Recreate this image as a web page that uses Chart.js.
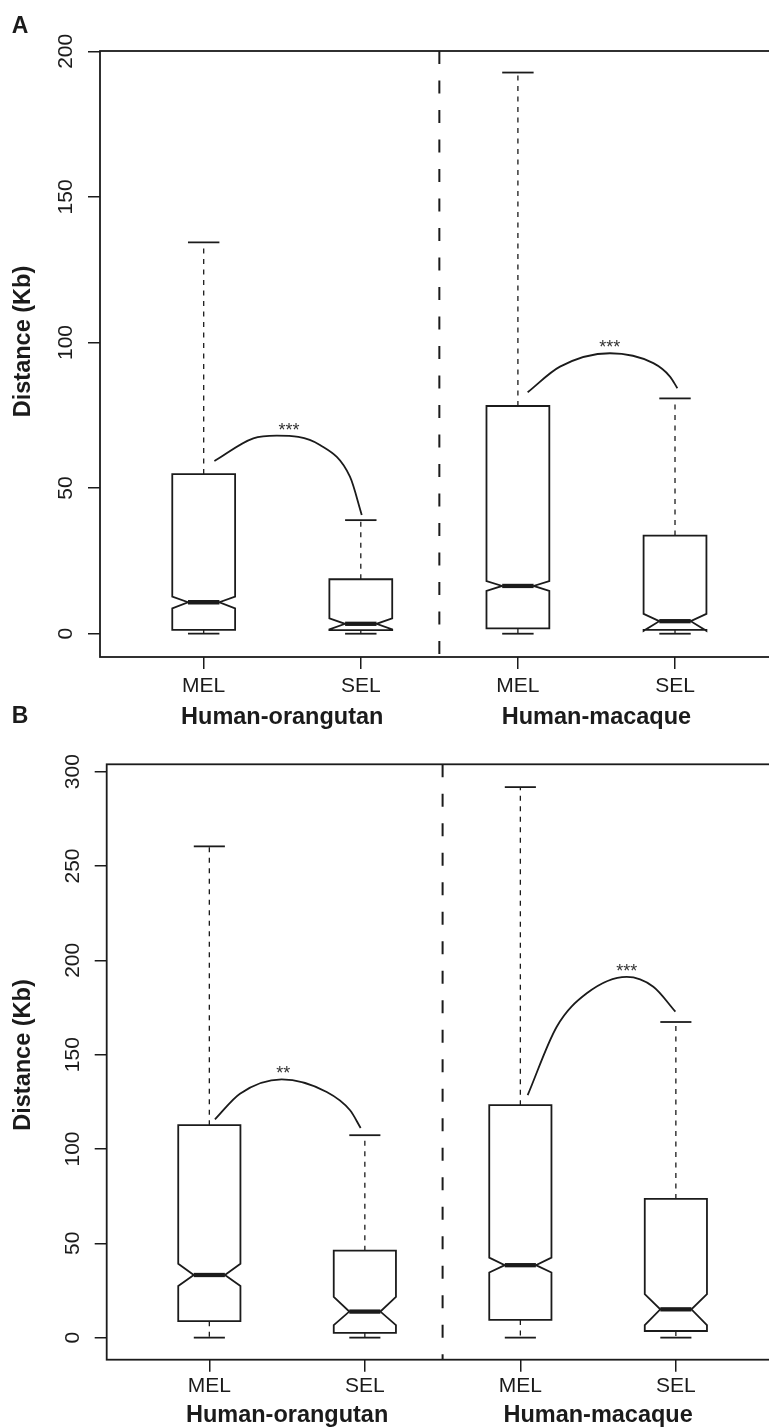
<!DOCTYPE html>
<html>
<head>
<meta charset="utf-8">
<script src="https://cdn.jsdelivr.net/npm/chart.js@4.4.1/dist/chart.umd.min.js"></script>
<style>
  html, body { margin: 0; padding: 0; background: #fff; overflow: hidden; }
  #wrap { position: relative; width: 769px; height: 1427px; overflow: hidden; }
  canvas { position: absolute; left: 0; }
  #panelA { top: 0; }
  #panelB { top: 690px; }
</style>
</head>
<body>
<div id="wrap">
  <canvas id="panelA" width="790" height="740"></canvas>
  <canvas id="panelB" width="790" height="737"></canvas>
</div>
<script>
// boxes sit at x = 1..4
const categories = ['MEL', 'SEL', 'MEL', 'SEL'];
const groups = ['Human-orangutan', 'Human-macaque'];
const groupCentres = [1.5, 3.5];
const dividerAt = 2.5;
const xRange = [0.34, 4.66];

// panel A, distance in Kb
const aLow = [0, 0, 0, 0];
const aQ1 = [1.3, 1.2, 1.8, 1.3];
const aNotchLow = [8.7, 1.5, 14.7, 1.0];
const aMedian = [10.8, 3.4, 16.4, 4.3];
const aNotchHigh = [12.7, 5.3, 18.1, 6.8];
const aQ3 = [54.8, 18.7, 78.2, 33.7];
const aHigh = [134.4, 39.0, 192.7, 80.8];
const aTicks = [0, 50, 100, 150, 200];
const aRange = [-8.0, 200.1];
// significance arcs, panel A
const aArc1X = [1.068, 1.316, 1.465, 1.740, 1.931, 2.006];
const aArc1Y = [59.3, 67.1, 68.0, 64.8, 53.9, 40.8];
const aArc2X = [3.062, 3.268, 3.586, 3.862, 3.968, 4.015];
const aArc2Y = [82.9, 91.7, 96.3, 92.9, 88.3, 84.3];
const aStars = ['***', '***'];
const aStarX = [1.543, 3.584];
const aStarY = [67.9, 96.5];

// panel B
const bLow = [0, 0, 0, 0];
const bQ1 = [8.7, 2.5, 9.4, 3.5];
const bNotchLow = [27.4, 6.6, 34.5, 6.6];
const bMedian = [33.2, 13.8, 38.4, 15.0];
const bNotchHigh = [39.2, 21.6, 42.4, 23.0];
const bQ3 = [112.6, 46.1, 123.2, 73.5];
const bHigh = [260.4, 107.3, 291.8, 167.3];
const bTicks = [0, 50, 100, 150, 200, 250, 300];
const bRange = [-11.7, 303.9];
const bArc1X = [1.036, 1.197, 1.465, 1.755, 1.905, 1.973];
const bArc1Y = [115.7, 129.3, 136.9, 130.2, 120.5, 111.1];
const bArc2X = [3.047, 3.234, 3.427, 3.684, 3.855, 3.997];
const bArc2Y = [128.5, 164.8, 182.5, 191.2, 186.0, 172.8];
const bStars = ['**', '***'];
const bStarX = [1.476, 3.684];
const bStarY = [136.9, 191.3];

const INK = '#1b1b1b';
const FONT = '"Liberation Sans", Arial, Helvetica, sans-serif';

function seg(ctx, x1, y1, x2, y2) {
  ctx.beginPath();
  ctx.moveTo(x1, y1);
  ctx.lineTo(x2, y2);
  ctx.stroke();
}

function boxPlugin(p) {
  return {
    id: 'notchedBoxes',
    beforeDatasetsDraw(chart) {
      const { ctx, chartArea: a, scales: { x, y } } = chart;
      const py = v => y.getPixelForValue(v);
      ctx.save();
      ctx.strokeStyle = INK;
      // dashed line between the two species pairs
      const xd = x.getPixelForValue(dividerAt);
      ctx.lineWidth = 2;
      ctx.setLineDash([13, 16.5]);
      seg(ctx, xd, a.top, xd, a.bottom);

      categories.forEach((c, i) => {
        const xc = x.getPixelForValue(i + 1);
        const hw = x.getPixelForValue(i + 1.2) - xc;
        // whiskers
        ctx.setLineDash([5, 5.5]);
        ctx.lineWidth = 1.3;
        seg(ctx, xc, py(p.q3[i]), xc, py(p.high[i]));
        seg(ctx, xc, py(p.q1[i]), xc, py(p.low[i]));
        ctx.setLineDash([]);
        ctx.lineWidth = 1.8;
        seg(ctx, xc - hw / 2, py(p.high[i]), xc + hw / 2, py(p.high[i]));
        seg(ctx, xc - hw / 2, py(p.low[i]), xc + hw / 2, py(p.low[i]));
        // notched box, same outline as R's boxplot(notch = TRUE)
        ctx.beginPath();
        ctx.moveTo(xc - hw, py(p.q1[i]));
        ctx.lineTo(xc - hw, py(p.notchLow[i]));
        ctx.lineTo(xc - hw / 2, py(p.median[i]));
        ctx.lineTo(xc - hw, py(p.notchHigh[i]));
        ctx.lineTo(xc - hw, py(p.q3[i]));
        ctx.lineTo(xc + hw, py(p.q3[i]));
        ctx.lineTo(xc + hw, py(p.notchHigh[i]));
        ctx.lineTo(xc + hw / 2, py(p.median[i]));
        ctx.lineTo(xc + hw, py(p.notchLow[i]));
        ctx.lineTo(xc + hw, py(p.q1[i]));
        ctx.closePath();
        ctx.fillStyle = '#fff';
        ctx.fill();
        ctx.stroke();
        ctx.lineWidth = 4.3;
        seg(ctx, xc - hw / 2, py(p.median[i]), xc + hw / 2, py(p.median[i]));
      });
      ctx.restore();
    },
    afterDraw(chart) {
      const { ctx, chartArea: a, scales: { x, y } } = chart;
      ctx.save();
      ctx.strokeStyle = INK;
      ctx.lineWidth = 1.8;
      ctx.strokeRect(a.left, a.top, a.right - a.left, a.bottom - a.top);

      ctx.fillStyle = '#333';
      ctx.font = '18px ' + FONT;
      ctx.textAlign = 'center';
      ctx.textBaseline = 'alphabetic';
      p.stars.forEach((s, i) => {
        ctx.fillText(s, x.getPixelForValue(p.starX[i]), y.getPixelForValue(p.starY[i]));
      });

      ctx.fillStyle = INK;
      ctx.font = 'bold 23.5px ' + FONT;
      ctx.textBaseline = 'middle';
      groups.forEach((g, i) => {
        ctx.fillText(g, x.getPixelForValue(groupCentres[i]), a.bottom + p.groupDy);
      });

      ctx.save();
      ctx.translate(23.3, (a.top + a.bottom) / 2 + p.titleDy);
      ctx.rotate(-Math.PI / 2);
      ctx.fillText('Distance (Kb)', 0, 0);
      ctx.restore();

      ctx.font = 'bold 23px ' + FONT;
      ctx.fillText(p.letter, 20, 26.7);
      ctx.restore();
    }
  };
}

function arcSet(xs, ys) {
  return {
    data: xs.map((v, i) => ({ x: v, y: ys[i] })),
    borderColor: INK,
    borderWidth: 1.8,
    pointRadius: 0,
    fill: false,
    cubicInterpolationMode: 'monotone'
  };
}

function makePanel(p) {
  new Chart(document.getElementById(p.canvas), {
    type: 'line',
    data: { datasets: p.arcs.map(a => arcSet(a[0], a[1])) },
    options: {
      responsive: false,
      animation: false,
      layout: { padding: { top: p.padTop, right: p.padRight, bottom: p.padBottom, left: 0 } },
      plugins: { legend: { display: false }, tooltip: { enabled: false } },
      scales: {
        x: {
          type: 'linear',
          min: xRange[0],
          max: xRange[1],
          afterBuildTicks: s => { s.ticks = categories.map((c, i) => ({ value: i + 1 })); },
          afterFit: s => { s.height = 50; },
          border: { display: false },
          grid: { drawOnChartArea: false, drawTicks: true, tickLength: 12, color: INK, lineWidth: 1.5 },
          ticks: {
            autoSkip: false, maxRotation: 0, padding: p.xTickPad,
            font: { family: FONT, size: 21 }, color: INK,
            callback: v => categories[Math.round(v) - 1]
          }
        },
        y: {
          type: 'linear',
          min: p.range[0],
          max: p.range[1],
          afterBuildTicks: s => { s.ticks = p.ticks.map(v => ({ value: v })); },
          afterFit: s => { s.width = p.leftWidth; },
          border: { display: false },
          grid: { drawOnChartArea: false, drawTicks: true, tickLength: 12, color: INK, lineWidth: 1.5 },
          ticks: {
            minRotation: 90, maxRotation: 90, crossAlign: 'center', padding: 4,
            font: { family: FONT, size: 21 }, color: INK
          }
        }
      }
    },
    plugins: [boxPlugin(p)]
  });
}

makePanel({
  canvas: 'panelA', letter: 'A',
  low: aLow, q1: aQ1, notchLow: aNotchLow, median: aMedian, notchHigh: aNotchHigh, q3: aQ3, high: aHigh,
  ticks: aTicks, range: aRange,
  arcs: [[aArc1X, aArc1Y], [aArc2X, aArc2Y]],
  stars: aStars, starX: aStarX, starY: aStarY,
  leftWidth: 100, padTop: 51, padRight: 11.3, padBottom: 33,
  xTickPad: 5, groupDy: 60.3, titleDy: -12.5
});

makePanel({
  canvas: 'panelB', letter: 'B',
  low: bLow, q1: bQ1, notchLow: bNotchLow, median: bMedian, notchHigh: bNotchHigh, q3: bQ3, high: bHigh,
  ticks: bTicks, range: bRange,
  arcs: [[bArc1X, bArc1Y], [bArc2X, bArc2Y]],
  stars: bStars, starX: bStarX, starY: bStarY,
  leftWidth: 106.7, padTop: 74.3, padRight: 11.5, padBottom: 17.3,
  xTickPad: 2, groupDy: 55.7, titleDy: -7
});
</script>
</body>
</html>
